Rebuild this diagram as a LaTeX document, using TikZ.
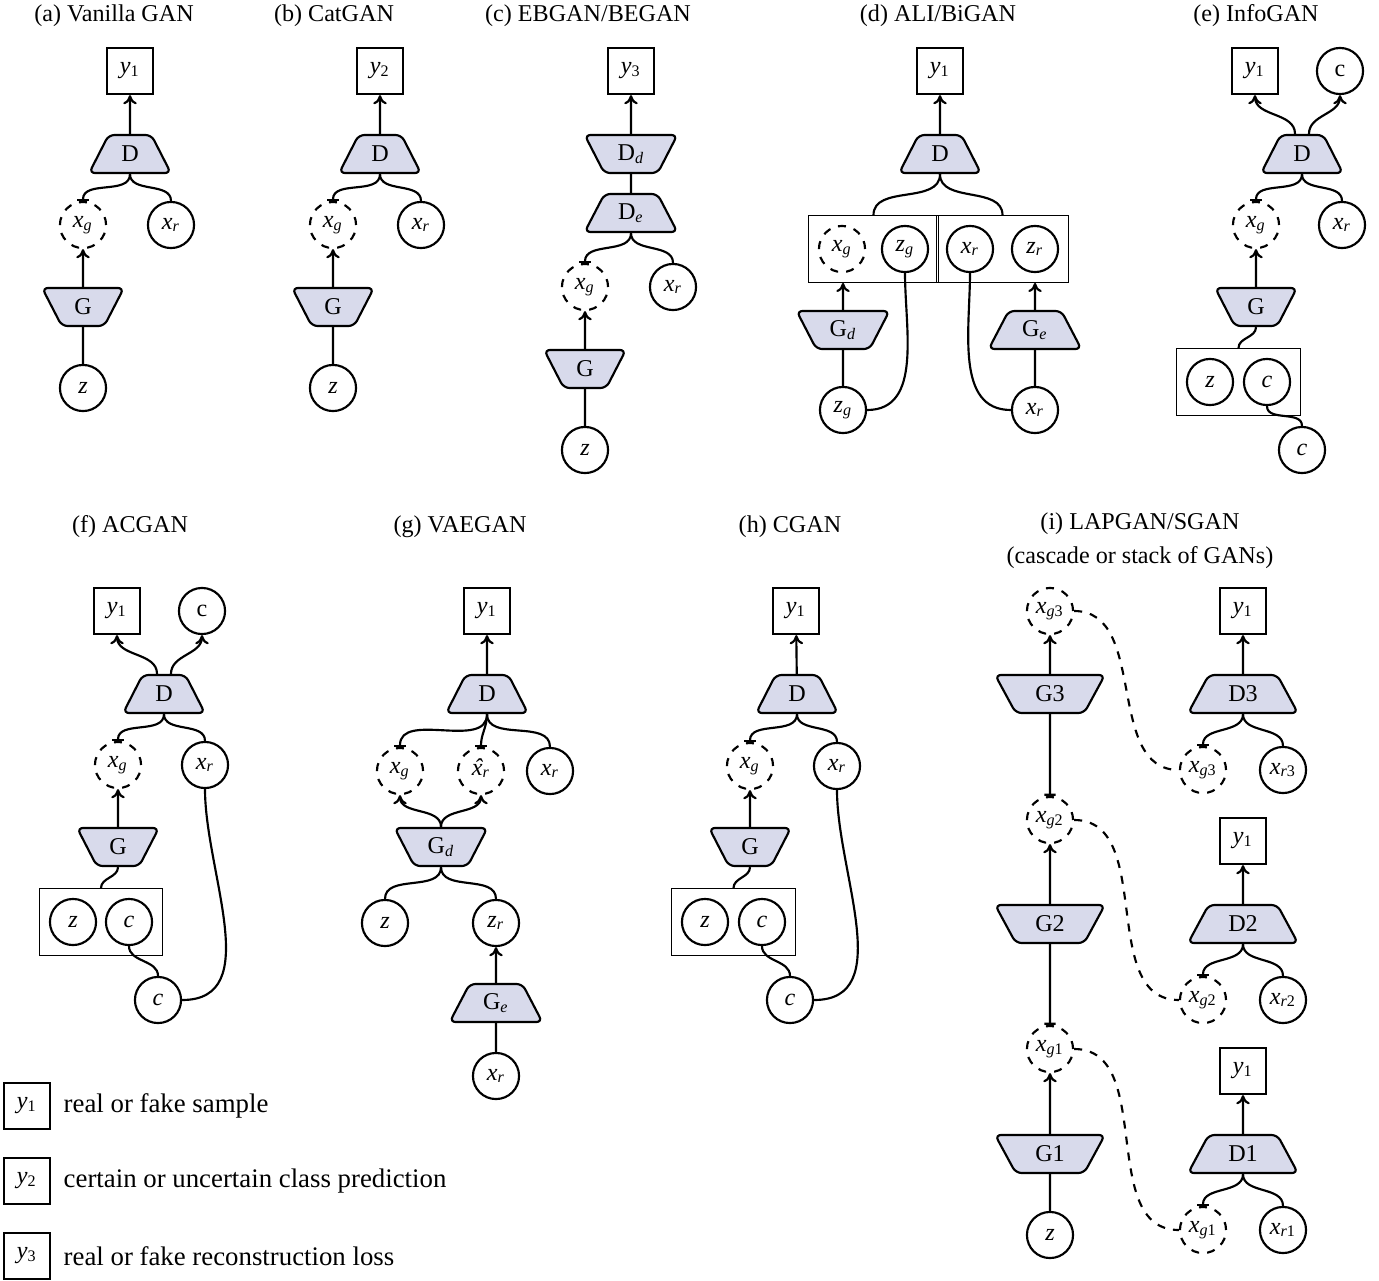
\documentclass[tikz,border=0pt]{standalone}
\usepackage{fontspec}
\setmainfont{Liberation Serif}
\usetikzlibrary{positioning, shapes.geometric, arrows.meta, fit}
\definecolor{netfill}{RGB}{216,218,235}
\newcommand{\iv}[3][]{\textit{#2}\textsubscript{\textit{#3}#1}}
\newcommand{\yv}[1]{\textit{y}\textsubscript{#1}}
\newcommand{\xhat}{\ooalign{\textit{x}\cr\hidewidth\kern0.12em\textit{\char"02C6}\hidewidth\cr}}

\begin{document}
\begin{tikzpicture}[x=0.373pt, y=0.373pt, thick, font=\small,
     >={To[length=3.4pt,width=5pt]},
     var/.style={circle, draw, minimum size=17.2pt, inner sep=0pt},
     fake/.style={var, dashed},
     outbox/.style={rectangle, draw, minimum size=17.2pt, inner sep=0pt},
     dnet/.style={trapezium, trapezium left angle=64, trapezium right angle=64,
        trapezium stretches=true, draw, fill=netfill, rounded corners=2.2pt,
        minimum width=30.5pt, minimum height=14.2pt, inner sep=1pt},
     gnet/.style={dnet, trapezium left angle=116, trapezium right angle=116},
     wide/.style={minimum width=34.6pt},
     wider/.style={minimum width=41pt},
     grp/.style={rectangle, draw, line width=0.5pt, inner sep=3.4pt},
     tee/.style={-{Bar[width=4.2pt]}},
     drop/.style={out=-90, in=90},
     title/.style={inner sep=0pt}]

  \useasboundingbox (0,0) rectangle (1379,-1281);

  % (a)
  \node[title] (ta) at (114,-16) {(a) Vanilla GAN};
  \node[outbox] (ya) at (130,-71) {\yv{1}};
  \node[dnet] (da) at (130,-154) {D};
  \node[fake] (xga) at (83,-225) {\iv{x}{g}};
  \node[var] (xra) at (171,-225) {\iv{x}{r}};
  \node[gnet] (ga) at (83,-307) {G};
  \node[var] (za) at (83,-388) {\textit{z}};
  \path[->] (da) edge (ya) (ga) edge (xga);
  \path (da.south) edge[tee, drop] (xga.north)
        (da.south) edge[drop] (xra.north)
        (za) edge (ga);

  % (b)
  \node[title] (tb) at (334,-16) {(b) CatGAN};
  \node[outbox] (yb) at (380,-71) {\yv{2}};
  \node[dnet] (db) at (380,-154) {D};
  \node[fake] (xgb) at (333,-225) {\iv{x}{g}};
  \node[var] (xrb) at (421,-225) {\iv{x}{r}};
  \node[gnet] (gb) at (333,-307) {G};
  \node[var] (zb) at (333,-388) {\textit{z}};
  \path[->] (db) edge (yb) (gb) edge (xgb);
  \path (db.south) edge[tee, drop] (xgb.north)
        (db.south) edge[drop] (xrb.north)
        (zb) edge (gb);

  % (c)
  \node[title] (tc) at (588,-16) {(c) EBGAN/BEGAN};
  \node[outbox] (yc) at (631,-71) {\yv{3}};
  \node[gnet, wide] (ddc) at (631,-154) {D\textsubscript{\textit{d}}};
  \node[dnet, wide] (dec) at (631,-213) {D\textsubscript{\textit{e}}};
  \node[fake] (xgc) at (585,-287) {\iv{x}{g}};
  \node[var] (xrc) at (673,-287) {\iv{x}{r}};
  \node[gnet] (gc) at (585,-369) {G};
  \node[var] (zc) at (585,-450) {\textit{z}};
  \path[->] (ddc) edge (yc) (gc) edge (xgc);
  \path (dec) edge (ddc)
        (dec.south) edge[tee, drop] (xgc.north)
        (dec.south) edge[drop] (xrc.north)
        (zc) edge (gc);

  % (d)
  \node[title] (td) at (938,-16) {(d) ALI/BiGAN};
  \node[outbox] (yd) at (940,-71) {\yv{1}};
  \node[dnet] (dd) at (940,-154) {D};
  \node[fake] (xgd) at (842,-249) {\iv{x}{g}};
  \node[var] (zgd) at (905,-249) {\iv{z}{g}};
  \node[var] (xrd) at (970,-249) {\iv{x}{r}};
  \node[var] (zrd) at (1035,-249) {\iv{z}{r}};
  \node[grp, fit=(xgd.west)(zgd.east)(xgd.north)(xgd.south)] (lbox) {};
  \node[grp, fit=(xrd.west)(zrd.east)(xrd.north)(xrd.south)] (rbox) {};
  \node[gnet, wide] (gdd) at (843,-330) {G\textsubscript{\textit{d}}};
  \node[dnet, wide] (ged) at (1035,-330) {G\textsubscript{\textit{e}}};
  \node[var] (zgbd) at (843,-410) {\iv{z}{g}};
  \node[var] (xrbd) at (1035,-410) {\iv{x}{r}};
  \path[->] (dd) edge (yd)
        (gdd) edge (gdd.north |- lbox.south)
        (ged) edge (ged.north |- rbox.south);
  \path (dd.south) edge[drop] (lbox.north)
        (dd.south) edge[drop] (rbox.north)
        (zgbd) edge (gdd)
        (xrbd) edge (ged)
        (zgbd.east) edge[out=0, in=-90] (zgd.south)
        (xrbd.west) edge[out=180, in=-90] (xrd.south);

  % (e)
  \node[title] (te) at (1256,-16) {(e) InfoGAN};
  \node[outbox] (ye) at (1255,-71) {\yv{1}};
  \node[var] (cte) at (1340,-71) {c};
  \node[dnet] (de) at (1302,-154) {D};
  \node[fake] (xge) at (1256,-225) {\iv{x}{g}};
  \node[var] (xre) at (1342,-225) {\iv{x}{r}};
  \node[gnet] (ge) at (1256,-307) {G};
  \node[var] (ze) at (1210,-382) {\textit{z}};
  \node[var] (ce) at (1267,-382) {\textit{c}};
  \node[grp, fit=(ze.west)(ce.east)(ze.north)(ze.south)] (boxe) {};
  \node[var] (cbe) at (1302,-450) {\textit{c}};
  \path[->] ([xshift=-2.6pt]de.north) edge[out=90, in=-90] (ye.south)
        ([xshift=2.6pt]de.north) edge[out=90, in=-90] (cte.south)
        (ge) edge (xge);
  \path (de.south) edge[tee, drop] (xge.north)
        (de.south) edge[drop] (xre.north)
        (ge.south) edge[drop] (boxe.north)
        (ce.south) edge[drop] (cbe.north);

  % (f)
  \node[title] (tf) at (130,-527) {(f) ACGAN};
  \node[outbox] (yf) at (117,-611) {\yv{1}};
  \node[var] (ctf) at (202,-611) {c};
  \node[dnet] (df) at (164,-694) {D};
  \node[fake] (xgf) at (118,-765) {\iv{x}{g}};
  \node[var] (xrf) at (205,-765) {\iv{x}{r}};
  \node[gnet] (gf) at (118,-847) {G};
  \node[var] (zf) at (73,-922) {\textit{z}};
  \node[var] (cf) at (129,-922) {\textit{c}};
  \node[grp, fit=(zf.west)(cf.east)(zf.north)(zf.south)] (boxf) {};
  \node[var] (cbf) at (158,-1000) {\textit{c}};
  \path[->] ([xshift=-2.6pt]df.north) edge[out=90, in=-90] (yf.south)
        ([xshift=2.6pt]df.north) edge[out=90, in=-90] (ctf.south)
        (gf) edge (xgf);
  \path (df.south) edge[tee, drop] (xgf.north)
        (df.south) edge[drop] (xrf.north)
        (gf.south) edge[drop] (boxf.north)
        (cf.south) edge[drop] (cbf.north)
        (xrf.south) edge[out=-90, in=0] (cbf.east);

  % (g)
  \node[title] (tg) at (460,-527) {(g) VAEGAN};
  \node[outbox] (yg) at (487,-611) {\yv{1}};
  \node[dnet] (dg) at (487,-694) {D};
  \node[fake] (xgg) at (400,-771) {\iv{x}{g}};
  \node[fake] (xhg) at (481,-771) {\xhat\textsubscript{\textit{r}}};
  \node[var] (xrg) at (550,-771) {\iv{x}{r}};
  \node[gnet, wide] (gdg) at (441,-847) {G\textsubscript{\textit{d}}};
  \node[var] (zg) at (385,-923) {\textit{z}};
  \node[var] (zrg) at (496,-923) {\iv{z}{r}};
  \node[dnet, wide] (geg) at (496,-1003) {G\textsubscript{\textit{e}}};
  \node[var] (xrbg) at (496,-1076) {\iv{x}{r}};
  \path[->] (dg) edge (yg)
        (gdg.north) edge[out=90, in=-90] (xgg.south)
        (gdg.north) edge[out=90, in=-90] (xhg.south)
        (geg) edge (zrg);
  \path (dg.south) edge[tee, drop] (xgg.north)
        (dg.south) edge[tee, drop] (xhg.north)
        (dg.south) edge[drop] (xrg.north)
        (gdg.south) edge[drop] (zg.north)
        (gdg.south) edge[drop] (zrg.north)
        (xrbg) edge (geg);

  % (h)
  \node[title] (th) at (790,-527) {(h) CGAN};
  \node[outbox] (yh) at (796,-611) {\yv{1}};
  \node[dnet] (dh) at (797,-694) {D};
  \node[fake] (xgh) at (750,-766) {\iv{x}{g}};
  \node[var] (xrh) at (837,-766) {\iv{x}{r}};
  \node[gnet] (gh) at (750,-847) {G};
  \node[var] (zh) at (705,-922) {\textit{z}};
  \node[var] (ch) at (762,-922) {\textit{c}};
  \node[grp, fit=(zh.west)(ch.east)(zh.north)(zh.south)] (boxh) {};
  \node[var] (cbh) at (790,-1000) {\textit{c}};
  \path[->] (dh) edge (yh) (gh) edge (xgh);
  \path (dh.south) edge[tee, drop] (xgh.north)
        (dh.south) edge[drop] (xrh.north)
        (gh.south) edge[drop] (boxh.north)
        (ch.south) edge[drop] (cbh.north)
        (xrh.south) edge[out=-90, in=0] (cbh.east);

  % (i)
  \node[title] (ti) at (1140,-524) {(i) LAPGAN/SGAN};
  \node[title] (ti2) at (1140,-558) {(cascade or stack of GANs)};
  \node[fake] (xg3) at (1050,-611) {\iv[3]{x}{g}};
  \node[gnet, wider] (g3) at (1050,-694) {G3};
  \node[fake] (xg2) at (1050,-820) {\iv[2]{x}{g}};
  \node[gnet, wider] (g2) at (1050,-924) {G2};
  \node[fake] (xg1) at (1050,-1049) {\iv[1]{x}{g}};
  \node[gnet, wider] (g1) at (1050,-1154) {G1};
  \node[var] (zi) at (1050,-1235) {\textit{z}};
  \node[outbox] (y3i) at (1243,-611) {\yv{1}};
  \node[dnet, wider] (d3) at (1243,-694) {D3};
  \node[fake] (xg3r) at (1203,-770) {\iv[3]{x}{g}};
  \node[var] (xr3) at (1283,-770) {\iv[3]{x}{r}};
  \node[outbox] (y2i) at (1243,-841) {\yv{1}};
  \node[dnet, wider] (d2) at (1243,-924) {D2};
  \node[fake] (xg2r) at (1203,-1000) {\iv[2]{x}{g}};
  \node[var] (xr2) at (1283,-1000) {\iv[2]{x}{r}};
  \node[outbox] (y1i) at (1243,-1071) {\yv{1}};
  \node[dnet, wider] (d1) at (1243,-1154) {D1};
  \node[fake] (xg1r) at (1203,-1230) {\iv[1]{x}{g}};
  \node[var] (xr1) at (1283,-1230) {\iv[1]{x}{r}};
  \path[->] (g3) edge (xg3) (g2) edge (xg2) (g1) edge (xg1)
        (d3) edge (y3i) (d2) edge (y2i) (d1) edge (y1i);
  \path (g3) edge[tee] (xg2)
        (g2) edge[tee] (xg1)
        (zi) edge (g1)
        (d3.south) edge[tee, drop] (xg3r.north)
        (d3.south) edge[drop] (xr3.north)
        (d2.south) edge[tee, drop] (xg2r.north)
        (d2.south) edge[drop] (xr2.north)
        (d1.south) edge[tee, drop] (xg1r.north)
        (d1.south) edge[drop] (xr1.north);
  \path[dashed] (xg3.east) edge[out=0, in=180] (xg3r.west)
        (xg2.east) edge[out=0, in=180] (xg2r.west)
        (xg1.east) edge[out=0, in=180] (xg1r.west);

  % legend
  \node[outbox] (l1) at (27,-1106) {\yv{1}};
  \node[outbox] (l2) at (27,-1181) {\yv{2}};
  \node[outbox] (l3) at (27,-1256) {\yv{3}};
  \node[right=4.3pt of l1, inner sep=0pt, font=\normalsize] (t1) {real or fake sample};
  \node[right=4.3pt of l2, inner sep=0pt, font=\normalsize] (t2) {certain or uncertain class prediction};
  \node[right=4.3pt of l3, inner sep=0pt, font=\normalsize] (t3) {real or fake reconstruction loss};
\end{tikzpicture}
\end{document}
